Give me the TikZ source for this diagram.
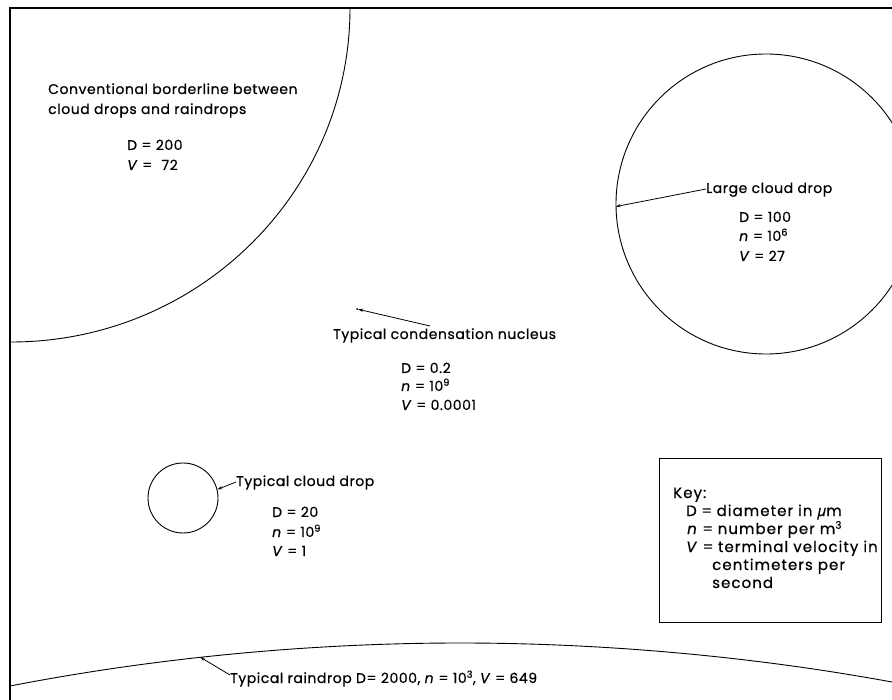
\documentclass[tikz,border=0pt]{standalone}
\usepackage{fontspec}
\setmainfont{Poppins}[LetterSpace=4, UprightFeatures={FakeBold=0.6}, ItalicFeatures={FakeBold=0.6}]
\newfontfamily\grk{Open Sans}[FakeBold=0.6]
\usetikzlibrary{arrows.meta}
\tikzset{
  lbl/.style={anchor=base west, inner sep=0pt, font=\fontsize{14}{16}\selectfont},
  keylbl/.style={anchor=base west, inner sep=0pt, font=\fontsize{15}{17}\selectfont\addfontfeature{LetterSpace=7}},
  ptr/.style={line width=0.8pt, -{Stealth[length=5pt,width=3.2pt]}},
  outline/.style={line width=0.9pt},
}
\newcommand{\eqs}{\hspace{0.3em}=\hspace{0.3em}}
\begin{document}
\begin{tikzpicture}[x=1pt,y=-1pt]
\useasboundingbox (0,0) rectangle (892,700);
\begin{scope}
\clip (0,0) rectangle (892,700);
% frame
\draw[line width=1.1pt] (10,700) -- (10,8) -- (892,8);
% borderline quarter circle
\draw[outline] (350,8) arc[start angle=0, end angle=90, x radius=339, y radius=334];
% large cloud drop
\node[circle, draw, outline, minimum size=300pt, inner sep=0pt] (lc) at (766,204) {};
% typical cloud drop
\node[circle, draw, outline, minimum size=70pt, inner sep=0pt] (cd) at (183,498) {};
% nucleus
\node[circle, fill, minimum size=2pt, inner sep=0pt] (nuc) at (357,309) {};
% raindrop arc
\draw[outline] (10,686) parabola bend (460,643) (892,682);
\coordinate (rtip) at (200,657);
\end{scope}

% borderline text
\node[lbl] (c1) at (48,94) {Conventional borderline between};
\node[lbl] (c2) at (48,114) {cloud drops and raindrops};
\node[lbl] (c3) at (127,150) {D = 200};
\node[lbl] (c4) at (127,170) {\textit{V} = \hspace{0.35em}72};

% large cloud drop text
\node[lbl] (l1) at (706,193) {Large cloud drop};
\node[lbl] (l2) at (739,222) {D = 100};
\node[lbl] (l3) at (739,241) {\textit{n} = 10\textsuperscript{6}};
\node[lbl] (l4) at (739,261) {\textit{V} = 27};
\draw[ptr] (l1.west |- 0,189) -- (lc.181);

% nucleus text
\node[lbl] (n1) at (333,339) {Typical condensation nucleus};
\node[lbl] (n2) at (401,373) {D = 0.2};
\node[lbl] (n3) at (401,391) {\textit{n} = 10\textsuperscript{9}};
\node[lbl] (n4) at (401,410) {\textit{V} = 0.0001};
\coordinate (nstart) at (430,326);
\draw[ptr] (nstart) -- (nuc);

% typical cloud drop text
\node[lbl] (d1) at (236,486) {Typical cloud drop};
\node[lbl] (d2) at (272,517) {D = 20};
\node[lbl] (d3) at (272,537) {\textit{n} = 10\textsuperscript{9}};
\node[lbl] (d4) at (272,556) {\textit{V} = 1};
\draw[ptr] (d1.west |- 0,482) -- (cd.14);

% raindrop text
\node[lbl] (r1) at (230,683) {Typical raindrop D= 2000, \textit{n} = 10\textsuperscript{3}, \textit{V} = 649};
\draw[ptr] (r1.west |- 0,675) -- (rtip);

% key
\draw[line width=1pt] (659,459) rectangle (881,622);
\node[keylbl] (k0) at (673,498) {Key:};
\node[keylbl] (k1) at (686,516) {D\eqs diameter in {\grk\itshape μ}m};
\node[keylbl] (k2) at (687,534) {\textit{n}\eqs number per m\textsuperscript{3}};
\node[keylbl] (k3) at (686,552) {\textit{V}\eqs terminal velocity in};
\node[keylbl] (k4) at (712,570) {centimeters per};
\node[keylbl] (k5) at (712,588) {second};
\end{tikzpicture}
\end{document}
